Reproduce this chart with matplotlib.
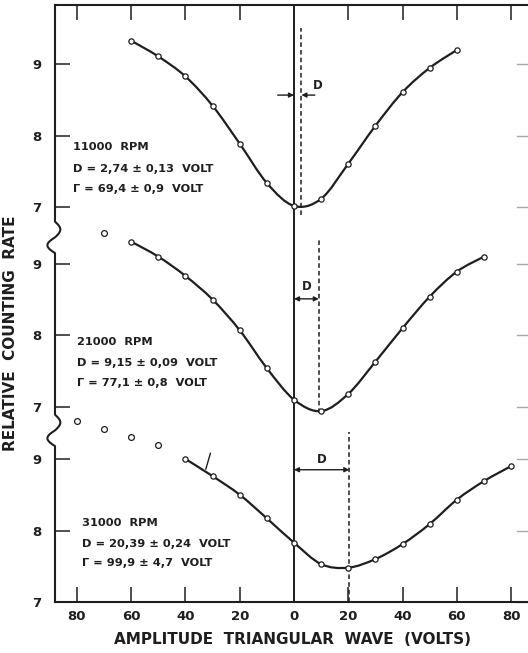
import numpy as np
import matplotlib
matplotlib.use("Agg")
import matplotlib.pyplot as plt
import matplotlib.transforms as mtransforms
from matplotlib.path import Path
from matplotlib.patches import PathPatch

# ---------------- data ----------------
volts_11000 = [-60, -50, -40, -30, -20, -10, 0, 10, 20, 30, 40, 50, 60]
rate_11000 = [9.33, 9.11, 8.83, 8.42, 7.89, 7.34, 7.02, 7.12, 7.61, 8.14, 8.61, 8.95, 9.20]

volts_21000 = [-60, -50, -40, -30, -20, -10, 0, 10, 20, 30, 40, 50, 60, 70]
rate_21000 = [9.31, 9.10, 8.83, 8.50, 8.07, 7.54, 7.10, 6.94, 7.18, 7.63, 8.10, 8.54, 8.89, 9.10]
extra_volts_21000 = [-70]
extra_rate_21000 = [9.43]

volts_31000 = [-40, -30, -20, -10, 0, 10, 20, 30, 40, 50, 60, 70, 80]
rate_31000 = [9.00, 8.76, 8.50, 8.17, 7.83, 7.53, 7.48, 7.60, 7.81, 8.09, 8.43, 8.69, 8.90]
extra_volts_31000 = [-80, -70, -60, -50]
extra_rate_31000 = [9.53, 9.42, 9.31, 9.20]

shift_D = [2.74, 9.15, 20.39]
panel_labels = [
    ["11000  RPM", "D = 2,74 ± 0,13  VOLT", "Γ = 69,4 ± 0,9  VOLT"],
    ["21000  RPM", "D = 9,15 ± 0,09  VOLT", "Γ = 77,1 ± 0,8  VOLT"],
    ["31000  RPM", "D = 20,39 ± 0,24  VOLT", "Γ = 99,9 ± 4,7  VOLT"],
]
ytick_values = [7, 8, 9]
xtick_values = [-80, -60, -40, -20, 0, 20, 40, 60, 80]
xtick_labels = ["80", "60", "40", "20", "0", "20", "40", "60", "80"]

# vertical offsets of the three stacked panels (top, middle, bottom)
offsets = [5.52, 2.73, 0.0]

INK = "#1e1e1e"
plt.rcParams['font.family'] = ['DejaVu Sans']

fig = plt.figure(figsize=(5.28, 6.53), dpi=100)
ax = fig.add_axes([55/528, 51/653, 475/528, 597/653])
ax.set_xlim(-88.1, 87.0)
ax.set_ylim(7, 15.35)


def smooth_path(x, y):
    """Cubic Bezier path (Catmull-Rom style) through the measured points."""
    P = np.column_stack([x, y]).astype(float)
    n = len(P)
    verts = [P[0]]
    codes = [Path.MOVETO]
    for i in range(n - 1):
        p0 = P[i - 1] if i > 0 else P[i]
        p1 = P[i]
        p2 = P[i + 1]
        p3 = P[i + 2] if i + 2 < n else P[i + 1]
        c1 = p1 + (p2 - p0) / 6.0
        c2 = p2 - (p3 - p1) / 6.0
        verts += [c1, c2, p2]
        codes += [Path.CURVE4] * 3
    return Path(verts, codes)


series = [
    (volts_11000, rate_11000, [], []),
    (volts_21000, rate_21000, extra_volts_21000, extra_rate_21000),
    (volts_31000, rate_31000, extra_volts_31000, extra_rate_31000),
]
for (vx, vy, ex, ey), off in zip(series, offsets):
    yv = np.array(vy) + off
    ax.add_patch(PathPatch(smooth_path(vx, yv), fill=False, edgecolor=INK,
                           lw=1.6, zorder=3))
    ax.plot(vx, yv, ls='none', marker='o', ms=3.8,
            mfc='white', mec=INK, mew=0.9, zorder=4)
    if ex:
        ax.plot(ex, np.array(ey) + off, ls='none', marker='o', ms=4.2,
                mfc='white', mec=INK, mew=0.9, zorder=4)

# zero line
ax.axvline(0, color=INK, lw=1.4, zorder=2)

# dashed D lines
dash_spans = [(12.41, 15.03), (9.64, 12.06), (7.0, 9.38)]
for d, (y0, y1) in zip(shift_D, dash_spans):
    ax.plot([d, d], [y0, y1], color=INK, lw=1.1, ls=(0, (3, 2)), zorder=2)

# D arrows
arr = dict(arrowstyle='-|>', color=INK, lw=1.0, mutation_scale=7, shrinkA=0, shrinkB=0)
y_top = 14.09
ax.annotate('', xy=(0, y_top), xytext=(-6.0, y_top), arrowprops=arr)
ax.annotate('', xy=(shift_D[0], y_top), xytext=(7.7, y_top), arrowprops=arr)
ax.text(8.9, 14.23, 'D', fontsize=8.5, fontweight='bold', color=INK, ha='center', va='center')

arr2 = dict(arrowstyle='<|-|>', color=INK, lw=1.0, mutation_scale=7, shrinkA=0, shrinkB=0)
ax.annotate('', xy=(shift_D[1], 11.24), xytext=(0, 11.24), arrowprops=arr2)
ax.text(4.8, 11.41, 'D', fontsize=8.5, fontweight='bold', color=INK, ha='center', va='center')
ax.annotate('', xy=(shift_D[2], 8.85), xytext=(0, 8.85), arrowprops=arr2)
ax.text(10.3, 9.0, 'D', fontsize=8.5, fontweight='bold', color=INK, ha='center', va='center')

# small mark on bottom curve
ax.plot([-32.5, -30.8], [8.86, 9.08], color=INK, lw=1.0)

# panel annotations
text_pos = [(-81.5, [13.36, 13.06, 12.77]),
            (-80.0, [10.64, 10.34, 10.06]),
            (-78.2, [8.10, 7.81, 7.55])]
for (tx, tys), lines in zip(text_pos, panel_labels):
    for ty, s in zip(tys, lines):
        ax.text(tx, ty, s, fontsize=8.2, fontweight='bold', color=INK,
                ha='left', va='center')

# y ticks for the 3 panels
yt, yl = [], []
for off in offsets:
    for v in ytick_values:
        yt.append(v + off)
        yl.append(str(v))
ax.set_yticks(yt)
ax.set_yticklabels(yl)
ax.set_xticks([v for v in xtick_values])
ax.set_xticklabels(xtick_labels)

ax.tick_params(axis='both', direction='in', length=11, width=1.1, color=INK,
               labelsize=9.5, labelcolor=INK)
ax.tick_params(axis='x', top=True, pad=6)
ax.tick_params(axis='y', right=False, pad=10)
for lab in ax.get_xticklabels() + ax.get_yticklabels():
    lab.set_fontweight('bold')
for t in ax.xaxis.get_major_ticks():
    if t.get_loc() == 0:
        t.tick1line.set_visible(False)
        t.tick2line.set_visible(False)

# faint right-hand ticks (right spine lies just outside the picture)
trans = mtransforms.blended_transform_factory(ax.transAxes, ax.transData)
for y in yt:
    ax.plot([0.972, 0.995], [y, y], color='#a8a8a8', lw=1.0, transform=trans,
            clip_on=False)

for s in ['top', 'bottom']:
    ax.spines[s].set_linewidth(1.5)
    ax.spines[s].set_color(INK)
ax.spines['right'].set_visible(False)
ax.spines['left'].set_visible(False)

# left spine with break marks
breaks = [(12.10, 0.44), (9.40, 0.44)]   # (centre, span) in data units
xs, ys = [0.0], [7.0]
for c, span in sorted(breaks):
    t = np.linspace(0, 1, 40)
    wig = -0.016 * np.sin(2 * np.pi * t) * np.where(t < 0.5, 1.0, 0.7)
    yy = c - span / 2 + span * t
    xs += [0.0] + list(wig) + [0.0]
    ys += [yy[0]] + list(yy) + [yy[-1]]
xs += [0.0]
ys += [15.35]
ax.plot(xs, ys, color=INK, lw=1.5, transform=trans, clip_on=False, zorder=4)

ax.set_xlabel('AMPLITUDE  TRIANGULAR  WAVE  (VOLTS)', fontsize=11, fontweight='bold',
              color=INK, labelpad=6)
ax.set_ylabel('RELATIVE  COUNTING  RATE', fontsize=11, fontweight='bold', color=INK,
              labelpad=8)
ax.yaxis.set_label_coords(-0.078, 0.45)

fig.savefig('out.png', dpi=100)
